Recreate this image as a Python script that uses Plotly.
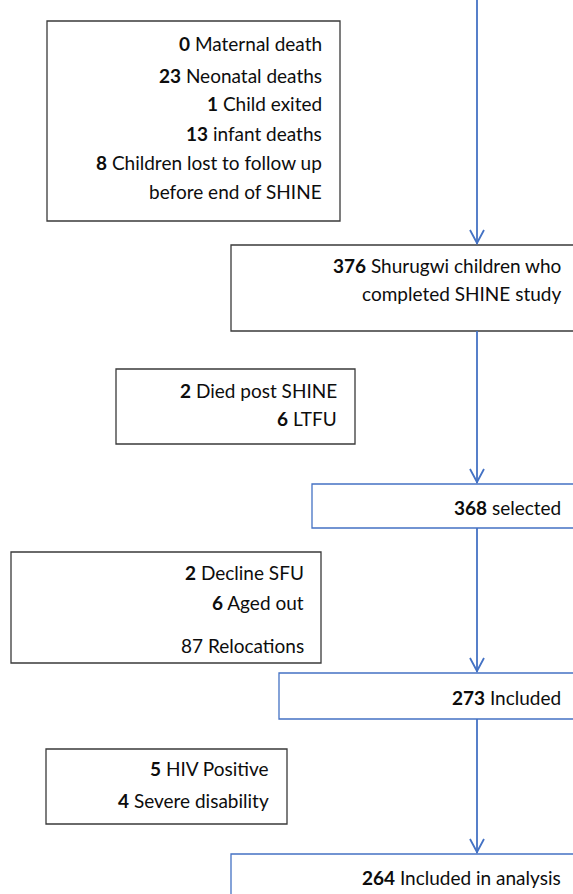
import plotly.graph_objects as go

# ---- data: counts and labels of the flow diagram ----
box1_counts = ["0", "23", "1", "13", "8", ""]
box1_labels = ["Maternal death", "Neonatal deaths", "Child exited", "infant deaths",
               "Children lost to follow up", "before end of SHINE"]
box2_counts = ["376", ""]
box2_labels = ["Shurugwi children who", "completed SHINE study"]
box3_counts = ["2", "6"]
box3_labels = ["Died post SHINE", "LTFU"]
box4_counts = ["368"]
box4_labels = ["selected"]
box5_counts = ["2", "6", ""]
box5_labels = ["Decline SFU", "Aged out", "87 Relocations"]
box6_counts = ["273"]
box6_labels = ["Included"]
box7_counts = ["5", "4"]
box7_labels = ["HIV Positive", "Severe disability"]
box8_counts = ["264"]
box8_labels = ["Included in analysis"]

# ---- layout geometry (pixels, y downward) ----
W, H = 573, 894
BLACK = "#3a3a3a"
BLUE = "#4472C4"
boxes = [
    # counts, labels, x0, y0, x1, y1, border colour, text right x, text line ys
    (box1_counts, box1_labels, 47, 21, 340, 221, BLACK, 324, [43, 75, 103, 133, 162, 191]),
    (box2_counts, box2_labels, 231, 245, 600, 331, BLACK, 563, [265, 293]),
    (box3_counts, box3_labels, 116, 369, 355, 444, BLACK, 339, [390, 418]),
    (box4_counts, box4_labels, 312, 484, 600, 528, BLUE, 563, [507]),
    (box5_counts, box5_labels, 11, 552, 321, 663, BLACK, 306, [572, 602, 645]),
    (box6_counts, box6_labels, 279, 673, 600, 719, BLUE, 563, [697]),
    (box7_counts, box7_labels, 46, 749, 287, 824, BLACK, 271, [768, 800]),
    (box8_counts, box8_labels, 231, 854, 600, 920, BLUE, 563, [877]),
]
arrow_x = 477
arrows = [(0, 245), (331, 484), (528, 673), (719, 854)]

fig = go.Figure()
shapes = []
annotations = []
for counts, labels, x0, y0, x1, y1, col, tx, tys in boxes:
    shapes.append(dict(type="rect", x0=x0, y0=y0, x1=x1, y1=y1,
                       line=dict(color=col, width=1.3), fillcolor="white", layer="above"))
    for c, l, ty in zip(counts, labels, tys):
        txt = (f"<b>{c}</b> {l}" if c else l)
        annotations.append(dict(x=tx, y=ty, text=txt, showarrow=False,
                                xanchor="right", yanchor="middle",
                                font=dict(family="Lato", size=19, color="#0d0d0d")))

for y0, y1 in arrows:
    shapes.append(dict(type="line", x0=arrow_x, x1=arrow_x, y0=y0, y1=y1 - 1,
                       line=dict(color=BLUE, width=1.8)))
    shapes.append(dict(type="path",
                       path=f"M {arrow_x-7},{y1-15} L {arrow_x},{y1-2} L {arrow_x+7},{y1-15}",
                       line=dict(color=BLUE, width=1.8)))

fig.update_layout(
    width=W, height=H,
    margin=dict(l=0, r=0, t=0, b=0),
    paper_bgcolor="white", plot_bgcolor="white",
    xaxis=dict(range=[0, W], visible=False, fixedrange=True),
    yaxis=dict(range=[H, 0], visible=False, fixedrange=True),
    shapes=shapes, annotations=annotations, showlegend=False,
)
fig.write_html(
    "out.html",
    config={"displayModeBar": False},
    post_script="document.body.style.margin='0';document.body.style.overflow='hidden';",
)
